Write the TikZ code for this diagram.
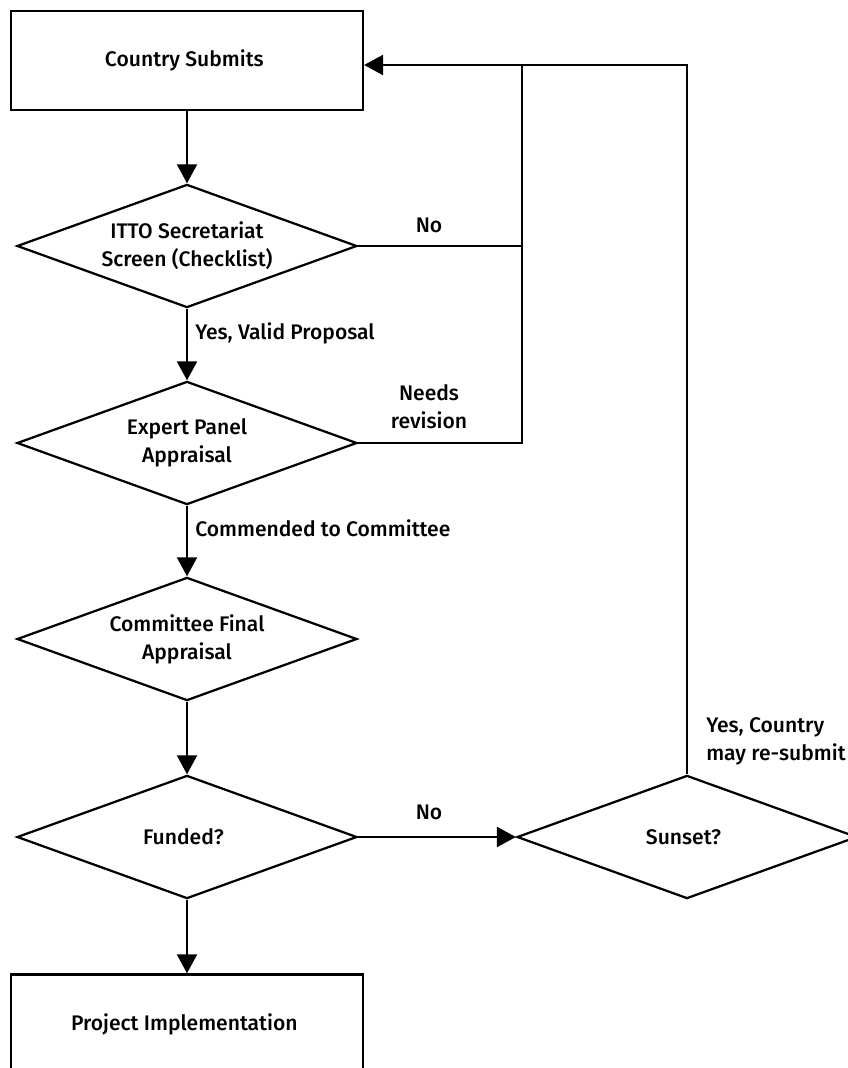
\documentclass[tikz,border=0pt]{standalone}
\usepackage{fontspec}
\setmainfont{Fira Sans}[BoldFont={Fira Sans Medium}]
\providecommand{\ffStroke}{black}
\providecommand{\ffFill}{white}
\usetikzlibrary{arrows.meta,shapes.geometric}
\tikzset{
  >={Triangle[length=4.75mm,width=5mm]},
  proc/.style 2 args={draw=\ffStroke,line width=1.6pt,fill=\ffFill,minimum width=#1,minimum height=#2,align=center},
  % diamond keeps the given outer size, text must stay inside
  decide/.style 2 args={draw=\ffStroke,diamond,line width=1.6pt,fill=\ffFill,shape aspect=2.76,inner sep=0pt,minimum width=#1,minimum height=#2,align=center},
  lbl/.style={align=center,inner sep=0pt},
  wire/.style={line width=1.6pt},
  conn/.style={->,line width=1.6pt},
}

\begin{document}
\begin{tikzpicture}[font=\bfseries\fontsize{15}{20}\selectfont]
\useasboundingbox (0cm,0cm) rectangle (21.20cm,-26.70cm);
\clip (0cm,0cm) rectangle (21.20cm,-26.70cm);
% --- Primitive nodes -------------------------------------------------------

  \node[proc={8.80cm}{2.48cm}] (submit) at (4.675cm,-1.51cm) { Country Submits };

  \node[decide={8.50cm}{3.08cm}] (screen) at (4.675cm,-6.15cm) { ITTO Secretariat\\Screen (Checklist) };

  \node[decide={8.50cm}{3.08cm}] (expert) at (4.675cm,-11.075cm) { Expert Panel\\Appraisal };

  \node[decide={8.50cm}{3.08cm}] (final) at (4.675cm,-15.975cm) { Committee Final\\Appraisal };

  \node[decide={8.50cm}{3.08cm}] (funded) at (4.675cm,-20.925cm) { Funded? };

  \node[decide={8.50cm}{3.08cm}] (sunset) at (17.175cm,-20.925cm) { Sunset? };

  \node[proc={8.80cm}{2.48cm}] (impl) at (4.675cm,-25.60cm) { Project Implementation };

  \coordinate (merge) at (13.05cm,-1.625cm);

% --- Edge labels -------------------------------------------------------------

  \node[lbl] (noscreen) at (10.725cm,-5.625cm) {No};

  \node[lbl] (revise) at (10.725cm,-10.16cm) {Needs\\revision};

  \node[lbl,anchor=west] (valid) at (4.875cm,-8.325cm) {Yes, Valid Proposal};

  \node[lbl,anchor=west] (commend) at (4.875cm,-13.20cm) {Commended to Committee};

  \node[lbl] (nofund) at (10.725cm,-20.30cm) {No};

  \node[lbl,anchor=west,align=left] (resubmit) at (17.65cm,-18.525cm) {Yes, Country\\may re-submit};

% --- Edges -----------------------------------------------------------------

  \draw[conn] (submit.south) -- (screen.north);

  \draw[conn] (screen.south) -- (expert.north);

  \draw[conn] (expert.south) -- (final.north);

  \draw[conn] (final.south) -- (funded.north);

  \draw[conn] (funded.south) -- (impl.north);

  \draw[conn] (funded.east) -- (sunset.west);

  \draw[wire] (screen.east) -- (screen.east -| merge);

  \draw[wire] (expert.east) -| (merge);

  \draw[wire] (sunset.north) |- (merge);

  \draw[conn] (merge) -- (merge -| submit.east);

\end{tikzpicture}
\end{document}
